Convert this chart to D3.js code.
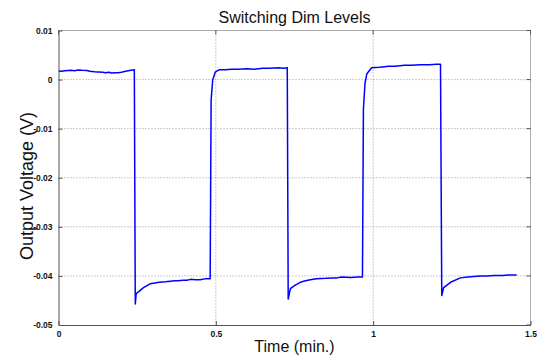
<!DOCTYPE html>
<html><head><meta charset="utf-8">
<script src="https://cdn.jsdelivr.net/npm/d3@7"></script>
<style>
html,body{margin:0;padding:0;background:#fff;}
svg{display:block;}
</style>
</head><body>
<svg id="chart" width="541" height="359"></svg>
<script>
// ---- data ----
const title = "Switching Dim Levels";
const xLabel = "Time (min.)";
const yLabel = "Output Voltage (V)";
const xTicks = [0, 0.5, 1, 1.5];
const xTickLabels = ["0", "0.5", "1", "1.5"];
const yTicks = [0.01, 0, -0.01, -0.02, -0.03, -0.04, -0.05];
const yTickLabels = ["0.01", "0", "-0.01", "-0.02", "-0.03", "-0.04", "-0.05"];

const time = [
  0, 0.01, 0.02, 0.03, 0.04, 0.05, 0.063, 0.075, 0.09, 0.1, 0.115, 0.127, 0.14, 0.15, 0.16, 0.169, 0.18, 0.19, 0.2, 0.217, 0.23, 0.241,
  0.244, 0.247, 0.255, 0.27, 0.291, 0.32, 0.34, 0.355, 0.37, 0.38, 0.395, 0.408, 0.42, 0.435, 0.45, 0.465, 0.482,
  0.485, 0.49, 0.498, 0.51, 0.53, 0.55, 0.57, 0.6, 0.62, 0.65, 0.67, 0.7, 0.715, 0.727,
  0.730, 0.737, 0.75, 0.768, 0.785, 0.8, 0.82, 0.85, 0.87, 0.885, 0.9, 0.93, 0.95, 0.966,
  0.969, 0.974, 0.98, 0.995, 1.02, 1.05, 1.07, 1.1, 1.12, 1.15, 1.18, 1.2, 1.214,
  1.218, 1.224, 1.246, 1.277, 1.3, 1.32, 1.34, 1.362, 1.385, 1.41, 1.43, 1.456
];
const voltage = [
  0.00175, 0.0017, 0.0018, 0.00185, 0.0019, 0.0018, 0.00196, 0.0019, 0.00185, 0.0017, 0.0016, 0.00155, 0.0015, 0.0014, 0.0015, 0.00135, 0.0014, 0.0014, 0.0015, 0.00175, 0.0019, 0.0020,
  -0.0457, -0.0436, -0.0432, -0.0424, -0.0416, -0.0413, -0.0412, -0.0411, -0.0410, -0.0410, -0.0409, -0.0409, -0.0407, -0.0408, -0.0408, -0.0406, -0.0406,
  -0.0042, -0.0001, 0.0015, 0.0020, 0.0020, 0.0021, 0.0021, 0.0022, 0.0021, 0.0023, 0.0023, 0.0024, 0.0023, 0.0024,
  -0.0447, -0.0426, -0.0420, -0.0413, -0.0410, -0.0408, -0.0406, -0.0405, -0.0404, -0.0404, -0.0402, -0.0403, -0.0402, -0.0402,
  -0.0060, -0.0008, 0.0012, 0.0024, 0.0025, 0.0027, 0.0027, 0.0029, 0.0029, 0.0030, 0.0030, 0.0031, 0.0031,
  -0.0440, -0.0424, -0.0413, -0.0404, -0.0402, -0.0401, -0.0400, -0.0400, -0.0399, -0.0399, -0.0398, -0.0398
];

// ---- layout ----
const svg = d3.select("#chart");
const L = 58.5, R = 530.5, T = 30.5, B = 325;
const x = d3.scaleLinear().domain([0, 1.5]).range([L, R]);
const y = d3.scaleLinear().domain([-0.05, 0.01]).range([B, T]);

// grid
const g = svg.append("g");
g.selectAll(".vg").data(xTicks.slice(1, -1)).enter().append("line")
  .attr("x1", d => x(d)).attr("x2", d => x(d)).attr("y1", T).attr("y2", B)
  .attr("stroke", "#999").attr("stroke-width", 1).attr("stroke-dasharray", "1,2");
g.selectAll(".hg").data(yTicks.slice(1, -1)).enter().append("line")
  .attr("y1", d => y(d)).attr("y2", d => y(d)).attr("x1", L).attr("x2", R)
  .attr("stroke", "#999").attr("stroke-width", 1).attr("stroke-dasharray", "1,2");
// top & right box (dotted)
svg.append("line").attr("x1", L).attr("x2", R).attr("y1", T).attr("y2", T)
  .attr("stroke", "#555").attr("stroke-width", 1).attr("stroke-dasharray", "1,1");
svg.append("line").attr("x1", R).attr("x2", R).attr("y1", T).attr("y2", B)
  .attr("stroke", "#555").attr("stroke-width", 1).attr("stroke-dasharray", "1,1");

// data line
const line = d3.line().x((d, i) => x(time[i])).y(d => y(d));
svg.append("path").datum(voltage).attr("d", line)
  .attr("fill", "none").attr("stroke", "#0000ff").attr("stroke-width", 1.5)
  .attr("stroke-linejoin", "round");

// axes
const xAxis = d3.axisBottom(x).tickValues(xTicks).tickSizeInner(-4).tickSizeOuter(0)
  .tickFormat((d, i) => xTickLabels[i]).tickPadding(6);
const yAxis = d3.axisLeft(y).tickValues(yTicks).tickSizeInner(-4).tickSizeOuter(0)
  .tickFormat((d, i) => yTickLabels[i]).tickPadding(6);
const gx = svg.append("g").attr("transform", `translate(0,${B})`).call(xAxis);
const gy = svg.append("g").attr("transform", `translate(${L},0)`).call(yAxis);
[gx, gy].forEach(a => {
  a.select(".domain").attr("stroke", "#555");
  a.selectAll(".tick line").attr("stroke", "#555");
  a.selectAll("text").attr("font-family", "Liberation Sans, Arial, sans-serif")
    .attr("font-size", 8.5).attr("font-weight", "bold").attr("fill", "#111");
});
// right & top tick marks
svg.selectAll(".rt").data(yTicks).enter().append("line")
  .attr("x1", R).attr("x2", R - 4).attr("y1", d => y(d)).attr("y2", d => y(d)).attr("stroke", "#555");
svg.selectAll(".tt").data(xTicks).enter().append("line")
  .attr("y1", T).attr("y2", T + 4).attr("x1", d => x(d)).attr("x2", d => x(d)).attr("stroke", "#555");

// texts
svg.append("text").attr("x", (L + R) / 2).attr("y", 23).attr("text-anchor", "middle")
  .attr("font-family", "Liberation Sans, Arial, sans-serif").attr("font-size", 16).attr("fill", "#111")
  .text(title);
svg.append("text").attr("x", (L + R) / 2).attr("y", 352).attr("text-anchor", "middle")
  .attr("font-family", "Liberation Sans, Arial, sans-serif").attr("font-size", 16).attr("fill", "#111")
  .text(xLabel);
svg.append("text").attr("transform", "translate(33,186) rotate(-90)").attr("text-anchor", "middle")
  .attr("font-family", "Liberation Sans, Arial, sans-serif").attr("font-size", 18).attr("fill", "#111")
  .text(yLabel);
</script>
</body></html>
